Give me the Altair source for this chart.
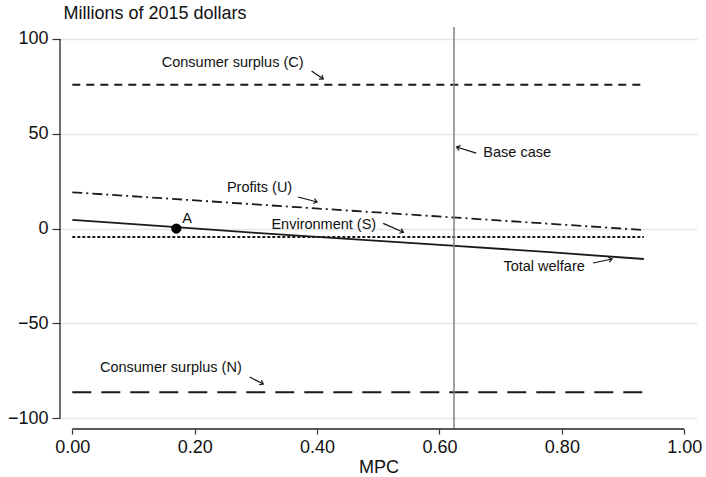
import math
import altair as alt
import pandas as pd

# MPC grid and welfare components (millions of 2015 dollars)
mpc = [0.0, 0.17, 0.30, 0.45, 0.62, 0.78, 0.934]
consumer_c = [75.8, 75.8, 75.8, 75.8, 75.8, 75.8, 75.8]
profits_u = [19.1, 15.5, 12.7, 9.5, 5.9, 2.5, -0.8]
environment_s = [-4.5, -4.5, -4.5, -4.5, -4.5, -4.5, -4.5]
consumer_n = [-86.4, -86.4, -86.4, -86.4, -86.4, -86.4, -86.4]
total_welfare = [4.5, 0.7, -2.3, -5.5, -9.0, -12.5, -16.1]

base_case_mpc = 0.6237
point_a_x = [0.17]
point_a_y = [0.0]

# Annotation labels and their arrows
label_text = ["Consumer surplus (C)", "Profits (U)", "Environment (S)",
              "Base case", "Total welfare", "Consumer surplus (N)"]
label_x = [0.262, 0.306, 0.411, 0.727, 0.771, 0.161]
label_y = [87.3, 21.2, 1.9, 39.8, -20.3, -73.6]
arrow_x1 = [0.391, 0.369, 0.508, 0.660, 0.851, 0.290]
arrow_y1 = [83.1, 16.6, 2.7, 39.8, -18.2, -78.4]
arrow_x2 = [0.410, 0.400, 0.541, 0.628, 0.882, 0.312]
arrow_y2 = [78.9, 14.0, -2.0, 43.0, -16.1, -82.1]

x_ticks = [0.0, 0.2, 0.4, 0.6, 0.8, 1.0]
y_ticks = [-100, -50, 0, 50, 100]

W, H = 637, 402
X_DOM = [-0.0201, 1.0208]
Y_DOM = [-105.8, 106.33]
FONT = "Liberation Sans"
INK = "#1a1a1a"

xs = alt.Scale(domain=X_DOM, nice=False, zero=False)
ys = alt.Scale(domain=Y_DOM, nice=False, zero=False)

x_axis = alt.Axis(values=x_ticks, format=".2f", domain=False, grid=False,
                  tickSize=5, tickColor="#333", tickWidth=1.2,
                  labelFontSize=18, labelFont=FONT, labelColor="#111",
                  labelPadding=4, title="MPC", titleFont=FONT,
                  titleFontSize=18, titleFontWeight="normal",
                  titleColor="#111", titlePadding=2)
y_axis = alt.Axis(values=y_ticks, domain=False, grid=True,
                  gridColor="#e6e6e6", gridWidth=1.5,
                  tickSize=8, tickColor="#333", tickWidth=1.2,
                  labelFontSize=18, labelFont=FONT, labelColor="#111",
                  labelPadding=4, title="Millions of 2015 dollars",
                  titleFont=FONT, titleFontSize=18, titleFontWeight="normal",
                  titleColor="#111", titleAngle=0, titleAlign="left",
                  titleBaseline="middle", titleX=3, titleY=-14)

X = lambda f: alt.X(f, type="quantitative", scale=xs, axis=x_axis)
Y = lambda f: alt.Y(f, type="quantitative", scale=ys, axis=y_axis)

series = [
    ("Consumer surplus (C)", consumer_c, [8, 6], 2.0),
    ("Profits (U)", profits_u, [10, 4, 2, 4], 1.8),
    ("Environment (S)", environment_s, [3, 2], 1.9),
    ("Consumer surplus (N)", consumer_n, [19, 10], 2.0),
    ("Total welfare", total_welfare, None, 1.8),
]

layers = []

# gridlines + axes come with the first layer
for name, vals, dash, width in series:
    df = pd.DataFrame({"mpc": mpc, "value": vals})
    kw = dict(color=INK, strokeWidth=width, clip=False)
    if dash:
        kw["strokeDash"] = dash
    layers.append(alt.Chart(df).mark_line(**kw).encode(x=X("mpc"), y=Y("value")))

# base case vertical rule
layers.append(
    alt.Chart(pd.DataFrame({"mpc": [base_case_mpc]}))
    .mark_rule(color="#808080", strokeWidth=1.5)
    .encode(x=X("mpc"))
)

# axis lines limited to the labelled range
layers.append(
    alt.Chart(pd.DataFrame({"lo": [y_ticks[0]], "hi": [y_ticks[-1]]}))
    .mark_rule(color="#222", strokeWidth=1.3)
    .encode(x=alt.value(0), y=Y("lo"), y2="hi")
)
layers.append(
    alt.Chart(pd.DataFrame({"lo": [x_ticks[0]], "hi": [x_ticks[-1]]}))
    .mark_rule(color="#222", strokeWidth=1.3)
    .encode(x=X("lo"), x2="hi", y=alt.value(H))
)

# point A
layers.append(
    alt.Chart(pd.DataFrame({"mpc": point_a_x, "value": point_a_y}))
    .mark_point(filled=True, color="#000", size=105, opacity=1)
    .encode(x=X("mpc"), y=Y("value"))
)
layers.append(
    alt.Chart(pd.DataFrame({"mpc": point_a_x, "value": point_a_y, "t": ["A"]}))
    .mark_text(font=FONT, fontSize=14.5, color="#111", align="left",
               baseline="bottom", dx=6, dy=-3)
    .encode(x=X("mpc"), y=Y("value"), text="t:N")
)

# annotation labels
lab = pd.DataFrame({"x": label_x, "y": label_y, "t": label_text})
layers.append(
    alt.Chart(lab)
    .mark_text(font=FONT, fontSize=14.5, color="#111", align="center",
               baseline="middle")
    .encode(x=X("x"), y=Y("y"), text="t:N")
)

# arrows: shaft plus open arrowhead rotated along the shaft
sx = W / (X_DOM[1] - X_DOM[0])
sy = H / (Y_DOM[1] - Y_DOM[0])
angles = [
    math.degrees(math.atan2(-(y2 - y1) * sy, (x2 - x1) * sx)) % 360
    for x1, y1, x2, y2 in zip(arrow_x1, arrow_y1, arrow_x2, arrow_y2)
]
arr = pd.DataFrame({"x1": arrow_x1, "y1": arrow_y1, "x2": arrow_x2,
                    "y2": arrow_y2, "ang": angles})
layers.append(
    alt.Chart(arr)
    .mark_rule(color="#111", strokeWidth=1.2)
    .encode(x=X("x1"), y=Y("y1"), x2="x2", y2="y2")
)
layers.append(
    alt.Chart(arr)
    .mark_point(shape="M-1,-0.75L0,0L-1,0.75", filled=False, color="#111",
                strokeWidth=1.2, size=45, opacity=1)
    .encode(x=X("x2"), y=Y("y2"),
            angle=alt.Angle("ang:Q", scale=None))
)

chart = (
    alt.layer(*layers)
    .properties(width=W, height=H,
                autosize=alt.AutoSizeParams(type="none"),
                padding={"left": 60, "top": 27, "right": 9, "bottom": 48},
                background="white")
    .configure_view(stroke=None)
)

chart.save("out.html", embed_options={"renderer": "svg", "actions": False})
